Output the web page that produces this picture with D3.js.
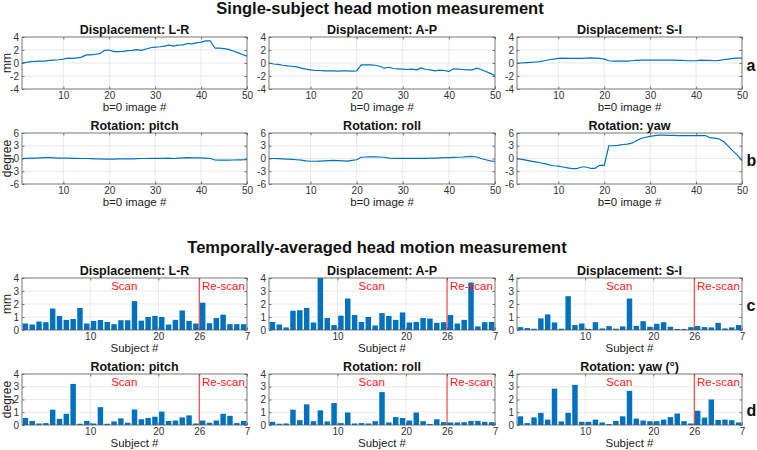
<!DOCTYPE html>
<html><head><meta charset="utf-8">
<script src="https://cdn.jsdelivr.net/npm/d3@7"></script>
<style>body{margin:0;background:#fff}svg{display:block}text{font-family:"Liberation Sans",Arial,sans-serif}</style>
</head><body>
<script>
// ---------- data ----------
const imageIdx = d3.range(1, 51);
const dispLR = [0.0,0.1,0.2,0.25,0.3,0.3,0.4,0.45,0.5,0.6,0.75,0.7,0.8,0.9,1.25,1.25,1.35,1.45,1.95,2.0,1.75,1.75,1.8,1.9,1.95,2.05,1.95,2.15,2.35,2.45,2.5,2.6,2.75,2.6,2.75,2.8,3.0,2.95,3.1,3.2,3.4,3.4,2.3,2.3,2.2,2.1,1.85,1.6,1.3,1.05];
const dispAP = [0.0,-0.15,-0.2,-0.35,-0.45,-0.5,-0.6,-0.8,-0.95,-1.05,-1.15,-1.15,-1.2,-1.2,-1.2,-1.25,-1.2,-1.2,-1.25,-1.2,-0.3,-0.3,-0.3,-0.35,-0.5,-0.8,-0.65,-0.85,-0.9,-0.95,-1.0,-0.95,-1.05,-0.75,-1.0,-1.05,-1.2,-1.1,-1.15,-1.3,-0.9,-0.95,-1.0,-1.05,-1.05,-0.8,-1.0,-1.3,-1.6,-1.95];
const dispSI = [0.0,0.0,0.05,0.1,0.15,0.2,0.35,0.5,0.6,0.7,0.75,0.7,0.7,0.7,0.7,0.75,0.8,0.75,0.7,0.6,0.35,0.3,0.3,0.3,0.3,0.35,0.4,0.45,0.45,0.45,0.45,0.45,0.45,0.45,0.45,0.4,0.4,0.35,0.35,0.35,0.45,0.4,0.4,0.35,0.4,0.5,0.6,0.7,0.75,0.75];
const rotPitch = [0.0,0.05,0.1,0.1,0.15,0.2,0.2,0.15,0.1,0.1,0.1,0.05,0.05,0.0,0.0,-0.05,-0.1,-0.1,-0.15,-0.15,-0.15,-0.1,-0.1,-0.1,-0.1,-0.05,0.0,0.0,0.05,0.05,0.05,0.05,0.1,0.0,0.1,0.15,0.2,0.15,0.15,0.15,0.1,0.0,-0.35,-0.4,-0.4,-0.4,-0.35,-0.3,-0.3,-0.25];
const rotRoll = [0.0,0.0,-0.05,-0.1,-0.15,-0.2,-0.3,-0.4,-0.55,-0.65,-0.65,-0.6,-0.55,-0.5,-0.45,-0.5,-0.55,-0.6,-0.45,-0.3,0.3,0.35,0.4,0.4,0.35,0.3,0.1,0.05,0.05,0.05,0.05,0.05,0.05,0.05,0.05,0.1,0.1,0.15,0.2,0.2,0.25,0.3,0.35,0.45,0.5,0.35,0.0,-0.3,-0.55,-0.7];
const rotYaw = [0.0,-0.2,-0.4,-0.6,-0.8,-1.0,-1.2,-1.5,-1.7,-1.8,-2.0,-2.2,-2.4,-2.4,-2.0,-2.0,-2.3,-2.3,-1.6,-1.6,3.0,3.0,3.1,3.3,3.4,3.6,4.2,4.7,5.0,5.2,5.4,5.5,5.5,5.45,5.45,5.4,5.4,5.4,5.4,5.4,5.4,5.4,4.9,4.8,4.6,4.0,2.9,1.8,0.8,-0.5];

const subjects = d3.range(1, 34);
const avgLR = [0.5,0.42,0.65,0.6,1.65,1.08,0.78,0.85,1.7,0.5,0.7,0.77,0.62,0.45,0.75,0.75,2.22,0.72,1.0,1.08,1.0,0.42,0.78,1.5,0.7,0.5,2.1,0.52,0.92,1.18,0.45,0.45,0.45];
const avgAP = [0.62,0.42,0.2,1.48,1.52,1.7,0.58,4.0,0.92,0.38,1.1,2.42,1.15,0.62,1.0,0.35,1.3,1.08,0.78,1.35,0.58,0.62,0.92,0.88,0.55,0.6,1.15,0.5,0.78,3.65,0.28,0.6,0.62];
const avgSI = [0.22,0.15,0.1,0.9,1.2,0.58,0.1,2.6,0.38,0.5,0.08,0.6,0.12,0.3,0.1,0.28,2.42,0.32,0.68,0.25,0.48,0.6,0.25,0.08,0.08,0.22,0.3,0.22,0.2,0.55,0.12,0.2,0.38];
const avgPitch = [0.55,0.32,0.12,0.15,1.2,0.48,0.88,3.22,0.1,0.32,0.12,1.4,0.1,0.28,0.52,0.18,1.22,0.45,0.55,0.65,1.05,0.32,0.35,0.6,0.75,0.12,0.35,0.18,0.35,0.88,0.72,0.15,0.32];
const avgRoll = [0.25,0.1,0.12,1.2,0.38,1.62,0.3,1.15,0.28,1.72,0.15,0.98,0.12,0.15,0.12,0.3,2.58,0.2,0.62,0.55,0.35,0.98,0.3,0.08,0.45,0.22,0.2,0.2,0.22,0.32,0.32,0.25,0.22];
const avgYaw = [0.68,0.15,0.6,0.95,0.42,2.85,0.28,0.95,3.15,0.25,0.25,0.42,0.2,0.08,0.32,0.68,2.68,0.5,0.35,0.3,0.3,0.42,0.62,0.9,0.3,0.12,1.12,0.58,2.0,0.4,0.42,0.38,0.2];

const lineXTicks = [10, 20, 30, 40, 50];
const dispYTicks = [-4, -2, 0, 2, 4];
const rotYTicks = [-6, -3, 0, 3, 6];
const barXTicks = [10, 20, 26, 33];
const barXTickLabels = ["10", "20", "26", "7"];
const barYTicks = [0, 1, 2, 3, 4];
const rescanStart = 26;

const topTitles = ["Displacement: L-R", "Displacement: A-P", "Displacement: S-I"];
const rotTitles = ["Rotation: pitch", "Rotation: roll", "Rotation: yaw"];
const avgRotTitles = ["Rotation: pitch", "Rotation: roll", "Rotation: yaw (°)"];

// ---------- layout ----------
const W = 757, H = 450;
const cols = [[22, 247], [269, 495], [517, 742]];
const rows = { a: [37, 89], b: [133, 184], c: [278, 330], d: [374, 425] };
const BLUE = "#0072BD", AX = "#555", GRID = "#e3e3e3", TXT = "#333";

const svg = d3.select("body").append("svg").attr("width", W).attr("height", H);

function frame(g, x, y, xTicks, yTicks) {
  const [x0, x1] = x.range(), [y1, y0] = y.range();
  g.append("g").selectAll("line").data(xTicks.filter(t => x(t) > x0 + 1 && x(t) < x1 - 1)).join("line")
    .attr("x1", d => x(d)).attr("x2", d => x(d)).attr("y1", y0).attr("y2", y1)
    .attr("stroke", GRID).attr("stroke-width", 0.8);
  g.append("g").selectAll("line").data(yTicks.filter(t => y(t) > y0 + 1 && y(t) < y1 - 1)).join("line")
    .attr("x1", x0).attr("x2", x1).attr("y1", d => y(d)).attr("y2", d => y(d))
    .attr("stroke", GRID).attr("stroke-width", 0.8);
}

function axes(g, x, y, xTicks, yTicks, xFmt) {
  const [x0, x1] = x.range(), [y1, y0] = y.range();
  const style = sel => {
    sel.select(".domain").remove();
    sel.selectAll(".tick line").attr("stroke", AX).attr("stroke-width", 0.8);
    sel.selectAll(".tick text").attr("fill", TXT).style("font-size", "10px")
      .style("font-family", '"Liberation Sans",Arial,sans-serif');
  };
  const xb = g.append("g").attr("transform", `translate(0,${y1})`)
    .call(d3.axisBottom(x).tickValues(xTicks).tickSize(-2.5).tickPadding(3).tickFormat(xFmt || (d => d)));
  style(xb);
  const xt = g.append("g").attr("transform", `translate(0,${y0})`)
    .call(d3.axisTop(x).tickValues(xTicks).tickSize(-2.5).tickFormat(""));
  style(xt);
  const yl = g.append("g").attr("transform", `translate(${x0},0)`)
    .call(d3.axisLeft(y).tickValues(yTicks).tickSize(-2.5).tickPadding(3).tickFormat(d => d < 0 ? "-" + Math.abs(d) : d));
  style(yl);
  const yr = g.append("g").attr("transform", `translate(${x1},0)`)
    .call(d3.axisRight(y).tickValues(yTicks).tickSize(-2.5).tickFormat(""));
  style(yr);
  g.append("rect").attr("x", x0).attr("y", y0).attr("width", x1 - x0).attr("height", y1 - y0)
    .attr("fill", "none").attr("stroke", AX).attr("stroke-width", 0.8);
}

function title(g, x, y, t) {
  const [x0, x1] = x.range(), [, y0] = y.range();
  g.append("text").attr("x", (x0 + x1) / 2).attr("y", y0 - 3.5).attr("text-anchor", "middle")
    .style("font-size", "12.5px").style("font-weight", "bold").attr("fill", "#111").text(t);
}

function xlabel(g, x, y, t) {
  const [x0, x1] = x.range(), [y1] = y.range();
  g.append("text").attr("x", (x0 + x1) / 2).attr("y", y1 + 22.3).attr("text-anchor", "middle")
    .style("font-size", "11.5px").attr("fill", "#222").text(t);
}

function linePanel(col, row, data, yDomain, yTicks, t) {
  const g = svg.append("g");
  const x = d3.scaleLinear().domain([1, 50]).range(cols[col]);
  const y = d3.scaleLinear().domain(yDomain).range([rows[row][1], rows[row][0]]);
  frame(g, x, y, lineXTicks, yTicks);
  const line = d3.line().x((d, i) => x(imageIdx[i])).y(d => y(d));
  g.append("path").datum(data).attr("d", line).attr("fill", "none")
    .attr("stroke", BLUE).attr("stroke-width", 1.2).attr("stroke-linejoin", "round");
  axes(g, x, y, lineXTicks, yTicks);
  title(g, x, y, t);
  xlabel(g, x, y, "b=0 image #");
}

function barPanel(col, row, data, t) {
  const g = svg.append("g");
  const x = d3.scaleLinear().domain([0, subjects.length]).range(cols[col]);
  const y = d3.scaleLinear().domain([0, 4]).range([rows[row][1], rows[row][0]]);
  frame(g, x, y, [10, 20], barYTicks);
  g.append("g").selectAll("rect").data(data).join("rect")
    .attr("x", (d, i) => x(subjects[i] - 0.9))
    .attr("width", (d, i) => x(subjects[i] - 0.1) - x(subjects[i] - 0.9))
    .attr("y", d => y(Math.min(d, 4)))
    .attr("height", d => y(0) - y(Math.min(d, 4)))
    .attr("fill", BLUE);
  g.append("line").attr("x1", x(rescanStart)).attr("x2", x(rescanStart))
    .attr("y1", y(0)).attr("y2", y(4)).attr("stroke", "#ff2020").attr("stroke-width", 1);
  g.append("text").attr("x", x(15)).attr("y", y(3.08)).attr("text-anchor", "middle")
    .style("font-size", "11.5px").attr("fill", "#ff1a1a").text("Scan");
  g.append("text").attr("x", x(29.55)).attr("y", y(3.08)).attr("text-anchor", "middle")
    .style("font-size", "11.5px").attr("fill", "#ff1a1a").text("Re-scan");
  axes(g, x, y, barXTicks, barYTicks, d => barXTickLabels[barXTicks.indexOf(d)]);
  title(g, x, y, t);
  xlabel(g, x, y, "Subject #");
}

// ---------- main titles ----------
svg.append("text").attr("x", 380).attr("y", 13.5).attr("text-anchor", "middle")
  .style("font-size", "16.5px").style("font-weight", "bold").attr("fill", "#111")
  .text("Single-subject head motion measurement");
svg.append("text").attr("x", 377).attr("y", 253).attr("text-anchor", "middle")
  .style("font-size", "16.5px").style("font-weight", "bold").attr("fill", "#111")
  .text("Temporally-averaged head motion measurement");

// ---------- panels ----------
[dispLR, dispAP, dispSI].forEach((d, i) => linePanel(i, "a", d, [-4, 4], dispYTicks, topTitles[i]));
[rotPitch, rotRoll, rotYaw].forEach((d, i) => linePanel(i, "b", d, [-6, 6], rotYTicks, rotTitles[i]));
[avgLR, avgAP, avgSI].forEach((d, i) => barPanel(i, "c", d, topTitles[i]));
[avgPitch, avgRoll, avgYaw].forEach((d, i) => barPanel(i, "d", d, avgRotTitles[i]));

// ---------- y labels ----------
const ylabels = [["mm", rows.a], ["degree", rows.b], ["mm", rows.c], ["degree", rows.d]];
ylabels.forEach(([t, r]) => {
  const cy = (r[0] + r[1]) / 2;
  svg.append("text").attr("transform", `translate(10.5,${cy}) rotate(-90)`).attr("text-anchor", "middle")
    .style("font-size", "12px").attr("fill", "#222").text(t);
});

// ---------- panel letters ----------
const letters = [["a", 70.5], ["b", 166], ["c", 311], ["d", 415.5]];
letters.forEach(([t, yy]) => {
  svg.append("text").attr("x", 746.5).attr("y", yy).style("font-size", "16px")
    .style("font-weight", "bold").attr("fill", "#111").text(t);
});
</script>
</body></html>
